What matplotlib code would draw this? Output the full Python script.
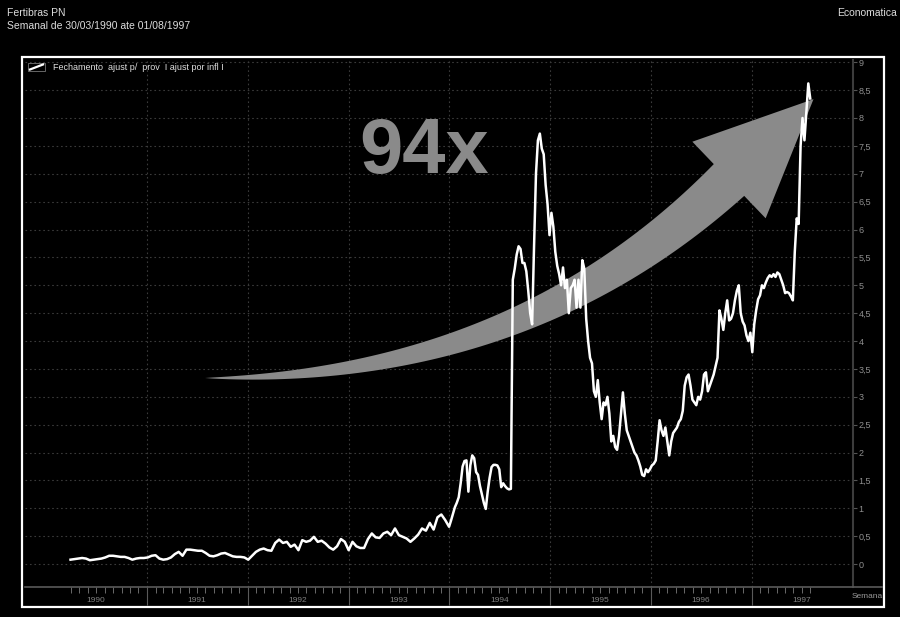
import matplotlib
matplotlib.use("Agg")
import matplotlib.pyplot as plt
from matplotlib.patches import Polygon, Rectangle
from matplotlib.lines import Line2D
from matplotlib.ticker import FuncFormatter, MultipleLocator
import numpy as np
import pandas as pd

plt.rcParams['font.family'] = ['Liberation Sans', 'DejaVu Sans']

W, H = 900, 617

# closes: every two weeks up to 1993, weekly afterwards
dates_9093 = pd.date_range("1990-03-30", "1993-12-31", freq="14D")
close_9093 = [
    0.08, 0.09, 0.10, 0.11, 0.10, 0.07, 0.08, 0.09, 0.10, 0.12,
    0.15, 0.15, 0.14, 0.13, 0.13, 0.11, 0.08, 0.10, 0.11, 0.11,
    0.12, 0.15, 0.16, 0.10, 0.08, 0.09, 0.12, 0.18, 0.22, 0.15,
    0.26, 0.26, 0.25, 0.24, 0.24, 0.20, 0.15, 0.14, 0.16, 0.19,
    0.20, 0.17, 0.14, 0.13, 0.13, 0.12, 0.08, 0.15, 0.22, 0.26,
    0.28, 0.25, 0.24, 0.38, 0.44, 0.38, 0.40, 0.31, 0.35, 0.25,
    0.43, 0.40, 0.42, 0.49, 0.40, 0.42, 0.37, 0.30, 0.26, 0.32,
    0.45, 0.40, 0.25, 0.40, 0.32, 0.29, 0.29, 0.45, 0.55, 0.48,
    0.47, 0.55, 0.58, 0.52, 0.64, 0.52, 0.49, 0.46, 0.40, 0.46,
    0.53, 0.64, 0.60, 0.74, 0.62, 0.84, 0.89, 0.79, 0.67,
]
dates_9497 = pd.date_range("1994-01-07", "1997-08-01", freq="7D")
close_9497 = [
    0.78, 0.90, 1.02, 1.10, 1.20, 1.45, 1.75, 1.85, 1.86, 1.30,
    1.77, 1.95, 1.90, 1.65, 1.60, 1.40, 1.25, 1.10, 0.99, 1.30,
    1.55, 1.74, 1.78, 1.78, 1.77, 1.70, 1.38, 1.45, 1.40, 1.36,
    1.34, 1.35, 5.10, 5.30, 5.55, 5.70, 5.65, 5.40, 5.40, 5.25,
    4.90, 4.50, 4.30, 5.70, 7.00, 7.60, 7.72, 7.45, 7.35, 6.80,
    6.45, 5.90, 6.30, 6.05, 5.60, 5.35, 5.20, 5.00, 5.32, 4.95,
    5.10, 4.50, 4.95, 5.00, 5.10, 4.60, 5.10, 4.60, 5.45, 5.30,
    4.40, 4.00, 3.70, 3.60, 3.10, 3.00, 3.30, 2.90, 2.60, 2.90,
    2.85, 3.00, 2.70, 2.20, 2.30, 2.10, 2.05, 2.30, 2.70, 3.08,
    2.70, 2.40, 2.30, 2.20, 2.10, 2.00, 1.95, 1.86, 1.75, 1.60,
    1.58, 1.70, 1.65, 1.70, 1.77, 1.80, 1.86, 2.20, 2.58, 2.40,
    2.30, 2.45, 2.20, 1.95, 2.20, 2.35, 2.40, 2.45, 2.55, 2.60,
    2.75, 3.20, 3.35, 3.40, 3.20, 2.95, 2.90, 2.85, 3.00, 2.95,
    3.10, 3.40, 3.44, 3.10, 3.20, 3.30, 3.40, 3.55, 3.70, 4.55,
    4.40, 4.20, 4.50, 4.73, 4.37, 4.40, 4.50, 4.73, 4.90, 5.00,
    4.50, 4.35, 4.28, 4.10, 4.00, 4.15, 3.80, 4.30, 4.55, 4.75,
    4.82, 5.00, 4.95, 5.05, 5.13, 5.18, 5.15, 5.20, 5.15, 5.23,
    5.20, 5.10, 5.00, 4.86, 4.88, 4.86, 4.80, 4.73, 5.60, 6.20,
    6.10, 7.50, 8.00, 7.60, 8.10, 8.62, 8.35,
]
years = list(range(1990, 1998))

dates = dates_9093.append(dates_9497)
close = close_9093 + close_9497


def fig_xy(x, y):
    # pixel position (y from top) -> figure fraction
    return x / W, 1 - y / H


fig = plt.figure(figsize=(W / 100, H / 100), dpi=100, facecolor="black")
ax = fig.add_axes([25 / W, (H - 587) / H, 828 / W, 527 / H], facecolor="black")

ax.plot(dates, close, color="white", lw=1.8, zorder=4, solid_joinstyle="round")

ax.set_xlim(pd.Timestamp("1989-10-16"), pd.Timestamp("1998-01-03"))
ax.set_ylim(-0.41, 9.04)

# y axis on the right
ax.yaxis.tick_right()
ax.yaxis.set_major_locator(MultipleLocator(0.5))
ax.yaxis.set_major_formatter(FuncFormatter(lambda v, p: f"{v:g}".replace(".", ",")))
ax.tick_params(axis="y", length=3, color="#555", labelcolor="#8f8f8f",
               labelsize=6.5, pad=1)
for s in ["top", "left", "bottom"]:
    ax.spines[s].set_visible(False)
ax.spines["right"].set_color("#3c3c3c")
ax.spines["right"].set_linewidth(1.5)

# x axis: year separators and monthly ticks
ax.set_xticks([pd.Timestamp(f"{y}-01-01") for y in years[1:]])
months = [d for d in pd.date_range("1990-04-01", "1997-08-01", freq="MS") if d.month != 1]
ax.set_xticks(months, minor=True)
ax.tick_params(axis="x", which="major", length=13, color="#5a5a5a", width=0.8,
               labelbottom=False)
ax.tick_params(axis="x", which="minor", length=4, color="#6a6a6a", width=0.7,
               labelbottom=False)
for y in years:
    ax.text(pd.Timestamp(f"{y}-07-01"), -0.026, str(y), transform=ax.get_xaxis_transform(),
            ha="center", va="center", fontsize=6, color="#808080")

ax.set_axisbelow(True)
ax.grid(axis="y", color="#3a3a3a", lw=0.8, linestyle=(0, (1.5, 2.5)))
ax.grid(axis="x", which="major", color="#3a3a3a", lw=0.8, linestyle=(0, (1.5, 2.5)))

# big grey arrow
t = np.linspace(0, 1, 80)[:, None]
p0, p1, p2 = np.array([205, 378]), np.array([520, 380]), np.array([729, 180])
curve = (1 - t) ** 2 * p0 + 2 * (1 - t) * t * p1 + t ** 2 * p2
deriv = 2 * (1 - t) * (p1 - p0) + 2 * t * (p2 - p1)
deriv = deriv / np.linalg.norm(deriv, axis=1)[:, None]
normal = np.column_stack([-deriv[:, 1], deriv[:, 0]])
half = 22 * t ** 0.85
side_a = curve + normal * half
side_b = curve - normal * half
d_end, n_end = deriv[-1], normal[-1]
head = [p2 + n_end * 53, p2 + d_end * 117, p2 - n_end * 53]
outline = np.vstack([side_a, head, side_b[::-1]])
outline = np.array([fig_xy(x, y) for x, y in outline])
ax.add_patch(Polygon(outline, closed=True, transform=fig.transFigure,
                     facecolor="#8a8a8a", edgecolor="none", zorder=3, clip_on=False))

fig.text(*fig_xy(424, 152), "94x", fontsize=56, fontweight="bold", color="#8a8a8a",
         ha="center", va="center")

# frame, axis line and labels
fig.add_artist(Rectangle(fig_xy(22, 607), 862 / W, 550 / H, transform=fig.transFigure,
                         fill=False, edgecolor="white", lw=1.6))
fig.add_artist(Line2D([25 / W, 882 / W], [(H - 587) / H] * 2, transform=fig.transFigure,
                      color="#5a5a5a", lw=1.2))
fig.text(*fig_xy(867, 597), "Semana", fontsize=6, color="#9a9a9a", ha="center", va="center")

# legend
fig.add_artist(Rectangle(fig_xy(28, 71), 17 / W, 8 / H, transform=fig.transFigure,
                         fill=False, edgecolor="#777", lw=0.6))
fig.add_artist(Line2D([30 / W, 43 / W], [1 - 69.5 / H, 1 - 64.5 / H], transform=fig.transFigure,
                      color="white", lw=1.6))
fig.text(*fig_xy(53, 67.5), "Fechamento  ajust p/  prov  I ajust por infl I", fontsize=6.5,
         color="#e0e0e0", ha="left", va="center")

fig.text(*fig_xy(7, 13), "Fertibras PN", fontsize=7.5, color="#dddddd", ha="left", va="center")
fig.text(*fig_xy(7, 26), "Semanal de 30/03/1990 ate 01/08/1997", fontsize=7.5,
         color="#dddddd", ha="left", va="center")
fig.text(*fig_xy(897, 13), "Economatica", fontsize=7.5, color="#dddddd", ha="right", va="center")

fig.savefig("out.png", dpi=100, facecolor="black")
